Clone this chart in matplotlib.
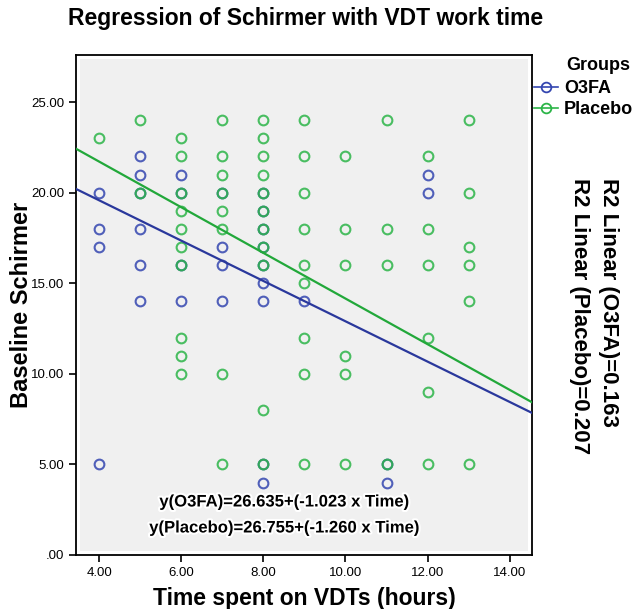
import numpy as np
from matplotlib import pyplot as plt
from matplotlib.patches import Rectangle
from matplotlib.lines import Line2D
import matplotlib.patheffects as pe

plt.rcParams['font.family'] = ['Liberation Sans', 'DejaVu Sans']

# O3FA group (time in hours, baseline schirmer)
o3fa_time = [4, 4, 4, 4,
             5, 5, 5, 5, 5, 5,
             6, 6, 6, 6,
             7, 7, 7, 7,
             8, 8, 8, 8, 8, 8, 8, 8, 8,
             9,
             11, 11,
             12, 12]
o3fa_schirmer = [20, 18, 17, 5,
                 22, 21, 20, 18, 16, 14,
                 21, 20, 16, 14,
                 20, 17, 16, 14,
                 20, 19, 18, 17, 16, 15, 14, 5, 4,
                 14,
                 5, 4,
                 21, 20]

# Placebo group
placebo_time = [4,
                5, 5,
                6, 6, 6, 6, 6, 6, 6, 6, 6, 6,
                7, 7, 7, 7, 7, 7, 7, 7,
                8, 8, 8, 8, 8, 8, 8, 8, 8, 8, 8,
                9, 9, 9, 9, 9, 9, 9, 9, 9,
                10, 10, 10, 10, 10, 10,
                11, 11, 11, 11,
                12, 12, 12, 12, 12, 12,
                13, 13, 13, 13, 13, 13]
placebo_schirmer = [23,
                    24, 20,
                    23, 22, 20, 19, 18, 17, 16, 12, 11, 10,
                    24, 22, 21, 20, 19, 18, 10, 5,
                    24, 23, 22, 21, 20, 19, 18, 17, 16, 8, 5,
                    24, 22, 20, 18, 16, 15, 12, 10, 5,
                    22, 18, 16, 11, 10, 5,
                    24, 18, 16, 5,
                    22, 18, 16, 12, 9, 5,
                    24, 20, 17, 16, 14, 5]

# fit lines as drawn (intercept, slope)
o3fa_fit = [24.03, -1.113]
placebo_fit = [26.755, -1.260]
r2_o3fa = 0.163
r2_placebo = 0.207

blue = '#3446b0'
green = '#2cb548'
blue_line = '#2a389c'
green_line = '#22a83a'

fig = plt.figure(figsize=(6.4, 6.09), dpi=100)
ax = fig.add_axes([0.119, 0.0887, 0.712, 0.821])
ax.set_facecolor('white')
ax.add_patch(Rectangle((0.008, 0.008), 0.984, 0.984, transform=ax.transAxes,
                       fc='#f0f0f0', ec='none', zorder=0))

ax.plot(o3fa_time, o3fa_schirmer, 'o', mfc='none', mec=blue, ms=7, mew=1.5, alpha=0.85, zorder=3)
ax.plot(placebo_time, placebo_schirmer, 'o', mfc='none', mec=green, ms=7, mew=1.5, alpha=0.85, zorder=3)

xs = np.array([3.44, 14.54])
ax.plot(xs, o3fa_fit[0] + o3fa_fit[1]*xs, color=blue_line, lw=1.6, zorder=4)
ax.plot(xs, placebo_fit[0] + placebo_fit[1]*xs, color=green_line, lw=1.6, zorder=4)

ax.set_xlim(3.44, 14.54)
ax.set_ylim(0, 27.6)
ax.set_xticks(np.arange(4, 15, 2))
ax.set_xticklabels(['4.00', '6.00', '8.00', '10.00', '12.00', '14.00'])
ax.set_yticks(np.arange(0, 26, 5))
ax.set_yticklabels(['.00', '5.00', '10.00', '15.00', '20.00', '25.00'])
ax.tick_params(direction='out', length=5, width=1.2, labelsize=9.5, top=False, right=False)
for s in ax.spines.values():
    s.set_linewidth(1.3)

ax.set_xlabel('Time spent on VDTs (hours)', fontsize=16.5, fontweight='bold')
ax.set_ylabel('Baseline Schirmer', fontsize=17, fontweight='bold')
ax.xaxis.set_label_coords(0.5, -0.064)
ax.yaxis.set_label_coords(-0.094, 0.5)

halo = [pe.withStroke(linewidth=3, foreground='white')]
ax.text(0.456, 0.106, 'y(O3FA)=%.3f+(%.3f x Time)' % (26.635, -1.023), transform=ax.transAxes,
        ha='center', va='center', fontsize=12, fontweight='bold', path_effects=halo, zorder=5)
ax.text(0.456, 0.054, 'y(Placebo)=%.3f+(%.3f x Time)' % (26.755, -1.260), transform=ax.transAxes,
        ha='center', va='center', fontsize=12, fontweight='bold', path_effects=halo, zorder=5)

fig.text(0.477, 0.970, 'Regression of Schirmer with VDT work time', ha='center', va='center',
         fontsize=16.5, fontweight='bold')

# legend
fig.text(0.884, 0.893, 'Groups', ha='left', va='center', fontsize=13, fontweight='bold')
handles = [Line2D([], [], color=blue, marker='o', mfc='none', mec=blue, ms=7, mew=1.3, lw=1.2),
           Line2D([], [], color=green, marker='o', mfc='none', mec=green, ms=7, mew=1.3, lw=1.2)]
fig.legend(handles, ['O3FA', 'Placebo'], loc='upper left', bbox_to_anchor=(0.835, 0.868),
           frameon=False, handlelength=1.3, handletextpad=0.35, labelspacing=0.2,
           borderpad=0, borderaxespad=0, prop={'size': 13, 'weight': 'bold'})

fig.text(0.950, 0.708, 'R2 Linear (O3FA)=%.3f' % r2_o3fa, rotation=270, ha='center', va='top',
         fontsize=16, fontweight='bold')
fig.text(0.906, 0.708, 'R2 Linear (Placebo)=%.3f' % r2_placebo, rotation=270, ha='center', va='top',
         fontsize=16, fontweight='bold')

fig.savefig('out.png', dpi=100)
